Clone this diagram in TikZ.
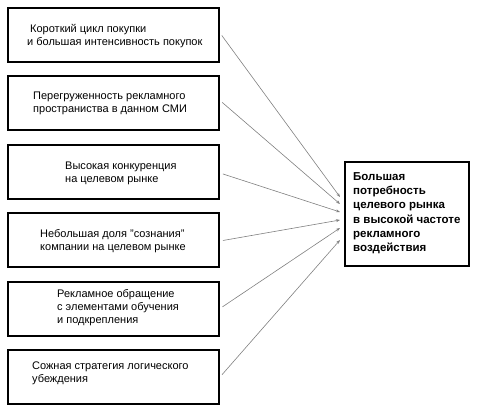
\documentclass[tikz,border=0pt]{standalone}
\usepackage{fontspec}
\setmainfont{Liberation Sans}
\usetikzlibrary{arrows.meta,calc}
\begin{document}
\begin{tikzpicture}[x=1pt,y=-1pt,
  box/.style={draw=black,line width=2pt,minimum width=211pt,minimum height=54pt,inner sep=0pt},
  bigbox/.style={draw=black,line width=2pt,minimum width=124pt,minimum height=104pt,inner sep=0pt},
  txt/.style={anchor=north west,align=left,inner sep=0pt,font=\fontsize{11}{13}\selectfont},
  btxt/.style={anchor=north west,align=left,inner sep=0pt,font=\fontsize{11.5}{14.3}\selectfont\bfseries},
  link/.style={draw=gray,line width=0.6pt,-{Stealth[length=4pt,width=3pt]},shorten <=3pt}]
\useasboundingbox (0,0) rectangle (477,413);
\node[box] (b1) at (113.5,35) {};
\node[box] (b2) at (113.5,102.5) {};
\node[box] (b3) at (113.5,172) {};
\node[box] (b4) at (113.5,240) {};
\node[box] (b5) at (113.5,308.5) {};
\node[box] (b6) at (113.5,377) {};
\node[bigbox] (rb) at (407,214) {};
\node[txt] (t1) at (27,24) {\hspace*{3pt}Короткий цикл покупки\\и большая интенсивность покупок};
\node[txt] (t2) at (33,92) {Перегруженность рекламного\\пространиства в данном СМИ};
\node[txt] (t3) at (65,162) {Высокая конкуренция\\на целевом рынке};
\node[txt] (t4) at (40,229) {Небольшая доля "сознания"\\компании на целевом рынке};
\node[txt] (t5) at (57,289) {Рекламное обращение\\с элементами обучения\\и подкрепления};
\node[txt] (t6) at (32,362) {Сожная стратегия логического\\убеждения};
\node[btxt] (rt) at (353,172) {Большая\\потребность\\целевого рынка\\в высокой частоте\\рекламного\\воздействия};
\coordinate (e1) at ($(rb.west)+(-4,-17)$);
\coordinate (e2) at ($(rb.west)+(-4,-10)$);
\coordinate (e3) at ($(rb.west)+(-4,-2)$);
\coordinate (e4) at ($(rb.west)+(-4,6)$);
\coordinate (e5) at ($(rb.west)+(-4,14)$);
\coordinate (e6) at ($(rb.west)+(-4,26)$);
\draw[link] ($(b1.east)+(0,-2)$) -- (e1);
\draw[link] ($(b2.east)+(0,-2)$) -- (e2);
\draw[link] ($(b3.east)+(0,1)$) -- (e3);
\draw[link] ($(b4.east)+(0,1)$) -- (e4);
\draw[link] (b5.east) -- (e5);
\draw[link] (b6.east) -- (e6);
\end{tikzpicture}
\end{document}
